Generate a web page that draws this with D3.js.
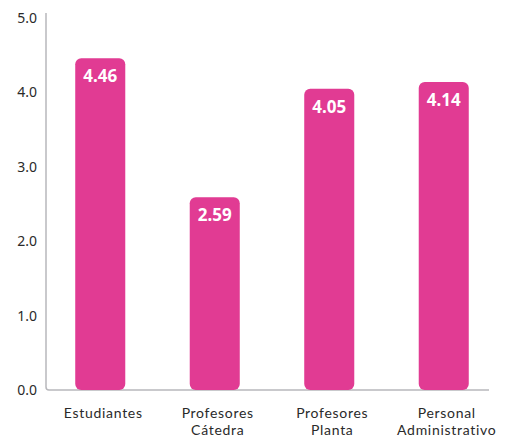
<!DOCTYPE html>
<html>
<head>
<meta charset="utf-8">
<script src="https://cdn.jsdelivr.net/npm/d3@7"></script>
<style>
  html, body { margin: 0; padding: 0; background: #fff; }
  svg { display: block; }
  text { font-family: "Noto Sans", "Open Sans", sans-serif; }
  .cat { font-family: Lato, "Noto Sans", sans-serif; }
</style>
</head>
<body>
<svg id="chart" width="508" height="441"></svg>
<script>
// Satisfaction scores by group
const categories = ["Estudiantes", "Profesores Cátedra", "Profesores Planta", "Personal Administrativo"];
const labelLines = [["Estudiantes"], ["Profesores", "Cátedra"], ["Profesores", "Planta"], ["Personal", "Administrativo"]];
const values = [4.46, 2.59, 4.05, 4.14];
const yTicks = [0, 1, 2, 3, 4, 5];

const svg = d3.select("#chart");
const barColor = "#e13b93";
const axisColor = "#b8b8bc";

const x = d3.scaleBand().domain(categories).range([43, 501]).paddingInner(0.563).paddingOuter(0.2815);
const y = d3.scaleLinear().domain([0, 5]).range([390, 18]);

// Axis lines
svg.append("path")
  .attr("d", `M46,13 L46,${y(0) - 3} Q46,${y(0)} 49,${y(0)} L489,${y(0)}`)
  .attr("fill", "none")
  .attr("stroke", axisColor)
  .attr("stroke-width", 1.5);

// Y tick labels
svg.append("g").selectAll("text")
  .data(yTicks)
  .join("text")
  .attr("x", 37)
  .attr("y", d => y(d))
  .attr("dy", "0.35em")
  .attr("text-anchor", "end")
  .attr("font-size", 14)
  .attr("fill", "#2a2a2a")
  .text(d => d3.format(".1f")(d));

// Bars
svg.append("g").selectAll("rect")
  .data(values)
  .join("rect")
  .attr("x", (d, i) => x(categories[i]))
  .attr("width", x.bandwidth())
  .attr("y", d => y(d))
  .attr("height", d => y(0) - y(d))
  .attr("rx", 6)
  .attr("fill", barColor);

// Value labels inside bars
svg.append("g").selectAll("text")
  .data(values)
  .join("text")
  .attr("x", (d, i) => x(categories[i]) + x.bandwidth() / 2)
  .attr("y", d => y(d) + 24)
  .attr("text-anchor", "middle")
  .attr("font-size", 17)
  .attr("font-weight", 700)
  .attr("fill", "#fff")
  .text(d => d3.format(".2f")(d));

// Category labels, one text element per line
const lineData = [];
categories.forEach((c, i) => labelLines[i].forEach((t, j) => lineData.push({ c, t, j })));
svg.append("g").selectAll("text")
  .data(lineData)
  .join("text")
  .attr("class", "cat")
  .attr("x", d => x(d.c) + x.bandwidth() / 2 + 3)
  .attr("y", d => 418 + d.j * 17)
  .attr("text-anchor", "middle")
  .attr("font-size", 14)
  .attr("letter-spacing", 0.7)
  .attr("fill", "#2a2a2a")
  .text(d => d.t);
</script>
</body>
</html>
